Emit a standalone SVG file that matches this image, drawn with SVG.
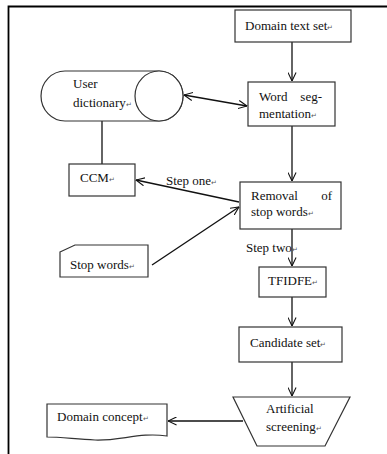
<svg xmlns="http://www.w3.org/2000/svg" width="387" height="454" viewBox="0 0 387 454">
  <style>
    .shape { fill: #fff; stroke: #333; stroke-width: 1.2; }
    .edge { fill: none; stroke: #111; stroke-width: 1.3; }
    text { font-family: "Liberation Serif", "Times New Roman", serif; font-size: 13px; fill: #111; }
    .pm { font-size: 7px; fill: #555; }
  </style>
  <defs>
    <marker id="arrow" viewBox="0 0 10 10" refX="9.5" refY="5" markerWidth="9" markerHeight="9" markerUnits="userSpaceOnUse" orient="auto-start-reverse">
      <path d="M0,0.5 L9.5,5 L0,9.5" fill="none" stroke="#111" stroke-width="1.2"/>
    </marker>
  </defs>

  <rect width="387" height="454" fill="#fff"/>
  <!-- page frame -->
  <path d="M8.5,454 L8.5,6.5 L387,6.5" fill="none" stroke="#000" stroke-width="1.8"/>

  <g id="connectors">
    <line class="edge" x1="292" y1="42" x2="292" y2="81" marker-end="url(#arrow)"/>
    <line class="edge" x1="184" y1="95" x2="247" y2="106" marker-start="url(#arrow)" marker-end="url(#arrow)"/>
    <line class="edge" x1="102" y1="121" x2="102" y2="164"/>
    <line class="edge" x1="292" y1="126" x2="292" y2="181" marker-end="url(#arrow)"/>
    <line class="edge" x1="239" y1="202" x2="136" y2="180" marker-end="url(#arrow)"/>
    <line class="edge" x1="152" y1="265" x2="239" y2="207" marker-end="url(#arrow)"/>
    <line class="edge" x1="292" y1="229" x2="292" y2="266" marker-end="url(#arrow)"/>
    <line class="edge" x1="292" y1="297" x2="292" y2="326" marker-end="url(#arrow)"/>
    <line class="edge" x1="292" y1="362" x2="292" y2="396" marker-end="url(#arrow)"/>
    <line class="edge" x1="243" y1="421" x2="168" y2="421" marker-end="url(#arrow)"/>
    <text x="166" y="185">Step one<tspan class="pm">↵</tspan></text>
    <text x="246" y="252">Step two<tspan class="pm">↵</tspan></text>
  </g>

  <g id="domain-text-set">
    <rect class="shape" x="235" y="10" width="116" height="32"/>
    <text x="245" y="30">Domain text set<tspan class="pm">↵</tspan></text>
  </g>

  <g id="user-dictionary">
    <path class="shape" d="M65,71 L159,71 A24,25 0 0 1 159,121 L65,121 A24,25 0 0 1 65,71 Z"/>
    <ellipse class="shape" cx="159" cy="96" rx="24" ry="25"/>
    <text x="73" y="88">User</text>
    <text x="73" y="107">dictionary<tspan class="pm">↵</tspan></text>
  </g>

  <g id="word-segmentation">
    <rect class="shape" x="248" y="82" width="87" height="44"/>
    <text x="259" y="101">Word</text>
    <text x="322" y="101" text-anchor="end">seg-</text>
    <text x="259" y="118">mentation<tspan class="pm">↵</tspan></text>
  </g>

  <g id="ccm">
    <rect class="shape" x="69" y="164" width="66" height="32"/>
    <text x="80" y="182">CCM<tspan class="pm">↵</tspan></text>
  </g>

  <g id="removal-of-stop-words">
    <rect class="shape" x="240" y="182" width="101" height="47"/>
    <text x="251" y="200">Removal</text>
    <text x="332" y="200" text-anchor="end">of</text>
    <text x="251" y="216">stop words<tspan class="pm">↵</tspan></text>
  </g>

  <g id="stop-words">
    <path class="shape" d="M60,252 L75,245 L148,245 L148,277 L60,277 Z"/>
    <text x="70" y="269">Stop words<tspan class="pm">↵</tspan></text>
  </g>

  <g id="tfidfe">
    <rect class="shape" x="259" y="267" width="67" height="30"/>
    <text x="268" y="285">TFIDFE<tspan class="pm">↵</tspan></text>
  </g>

  <g id="candidate-set">
    <rect class="shape" x="239" y="327" width="103" height="35"/>
    <text x="250" y="347">Candidate set<tspan class="pm">↵</tspan></text>
  </g>

  <g id="artificial-screening">
    <path class="shape" d="M233,397 L350,397 L325,446 L257,446 Z"/>
    <text x="266" y="413">Artificial</text>
    <text x="266" y="431">screening<tspan class="pm">↵</tspan></text>
  </g>

  <g id="domain-concept">
    <path class="shape" d="M47,404 L167,404 L167,436 C140,432 120,441 95,440 C75,439 60,437 47,437 Z"/>
    <text x="57" y="421">Domain concept<tspan class="pm">↵</tspan></text>
  </g>
</svg>
